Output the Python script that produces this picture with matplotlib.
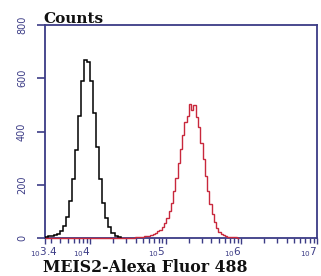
import numpy as np
import matplotlib
matplotlib.use("Agg")
import matplotlib.pyplot as plt
import matplotlib.transforms as mtransforms
from matplotlib.ticker import FixedLocator, LogLocator, NullFormatter

# ---- data ----
black_log_start = 3.40
black_bin_width = 0.04
black_counts = [5, 8, 8, 10, 15, 25, 45, 80, 140, 220, 330, 460, 590, 670, 660,
                590, 470, 340, 220, 130, 75, 40, 20, 8, 3]

red_log_start = 4.585
red_bin_width = 0.03
red_counts = [3, 3, 4, 5, 6, 7, 8, 10, 14, 20,
              25, 30, 40, 55, 75, 100, 132, 175, 225, 280,
              334, 388, 435, 460, 505, 480, 500, 455, 416, 358,
              296, 234, 177, 128, 89, 59, 38, 23, 15, 10,
              7, 5, 4, 3, 2, 1]

x_tick_exponents = [3.4, 4, 5, 6, 7]
x_tick_labels = ["3.4", "4", "5", "6", "7"]
y_ticks = [0, 200, 400, 600, 800]
y_tick_labels = ["0", "200", "400", "600", "800"]
title_text = "Counts"
xlabel_text = "MEIS2-Alexa Fluor 488"

# ---- style ----
navy = "#3c3c86"
red = "#c8283c"

fig = plt.figure(figsize=(3.21, 2.76), dpi=100)
ax = fig.add_axes([45/321, 1-238/276, (317-45)/321, (238-25)/276])

bedges = 10 ** (black_log_start + black_bin_width * np.arange(len(black_counts) + 1))
ax.stairs(black_counts, bedges, baseline=0, color="black", lw=1.1, zorder=3)

redges = 10 ** (red_log_start + red_bin_width * np.arange(len(red_counts) + 1))
redges = np.concatenate([[10 ** x_tick_exponents[0]], redges])
rvals = np.concatenate([[0], red_counts])
ax.stairs(rvals, redges, baseline=0, color=red, lw=1.0, zorder=4, clip_on=False)

ax.set_xscale("log")
ax.set_xlim(10 ** x_tick_exponents[0], 10 ** x_tick_exponents[-1])
ax.set_ylim(y_ticks[0], y_ticks[-1])

for s in ax.spines.values():
    s.set_color(navy)
    s.set_linewidth(1.3)

ax.xaxis.set_major_locator(FixedLocator([10 ** e for e in x_tick_exponents]))
ax.xaxis.set_minor_locator(LogLocator(base=10, subs=np.arange(2, 10), numticks=20))
ax.xaxis.set_minor_formatter(NullFormatter())
ax.set_xticklabels(["$_{10}$" + t for t in x_tick_labels])
ax.tick_params(axis="x", which="both", direction="out", color=navy, width=1.0,
               labelcolor=navy, labelsize=7.5, pad=1.5)
ax.tick_params(axis="x", which="major", length=4)
ax.tick_params(axis="x", which="minor", length=3.5)
for i, lab in enumerate(ax.get_xticklabels()):
    lab.set_ha("right")
    if i == 0:
        lab.set_transform(lab.get_transform() +
                          mtransforms.ScaledTranslation(13/100, 0, fig.dpi_scale_trans))

ax.set_yticks(y_ticks)
ax.set_yticklabels(y_tick_labels, rotation=90, va="center")
ax.tick_params(axis="y", which="major", direction="out", length=6, width=1.2,
               color=navy, labelcolor=navy, labelsize=7, pad=7)

fig.text(43/321, 1-23/276, title_text, fontfamily="DejaVu Serif", fontweight="bold",
         fontsize=11, ha="left", va="baseline", color="#111111")
fig.text(43/321, 1-272/276, xlabel_text, fontfamily="DejaVu Serif", fontweight="bold",
         fontsize=11.3, ha="left", va="baseline", color="#111111")

fig.savefig("out.png", dpi=100)
